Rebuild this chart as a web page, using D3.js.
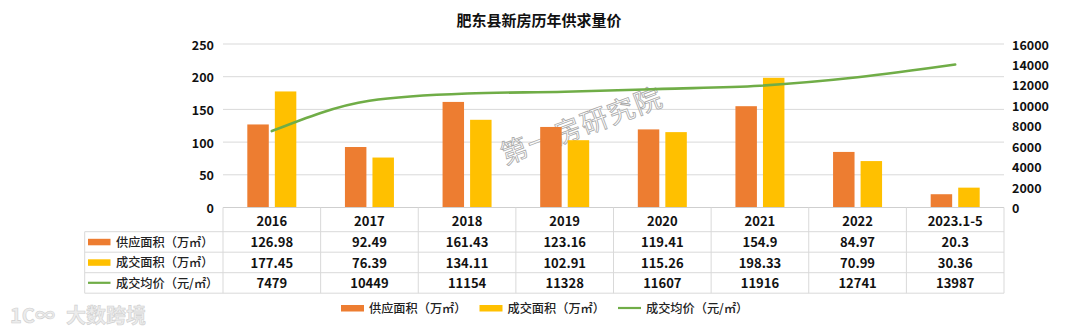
<!DOCTYPE html>
<html><head><meta charset="utf-8">
<script src="https://cdn.jsdelivr.net/npm/d3@7"></script>
<style>
body{margin:0;background:#fff;}
svg{display:block;font-family:"Noto Sans CJK SC","Noto Sans",sans-serif;}
</style></head>
<body><svg id="c" width="1080" height="327"></svg>
<script>
const title = "肥东县新房历年供求量价";
const categories = ["2016","2017","2018","2019","2020","2021","2022","2023.1-5"];
const supplyArea = [126.98,92.49,161.43,123.16,119.41,154.9,84.97,20.3];
const dealArea = [177.45,76.39,134.11,102.91,115.26,198.33,70.99,30.36];
const dealPrice = [7479,10449,11154,11328,11607,11916,12741,13987];
const leftTicks = [0,50,100,150,200,250];
const rightTicks = [0,2000,4000,6000,8000,10000,12000,14000,16000];
const seriesNames = ["供应面积（万㎡）","成交面积（万㎡）","成交均价（元/㎡）"];
const colors = ["#ED7D31","#FFC000","#70AD47"];

const svg = d3.select("#c");
const L = 223, R = 1004, T = 44, B = 207.5;
const labelLeft = 84.7;

const x = d3.scaleBand().domain(categories).range([L, R]);
const xs = d3.scaleBand().domain([0,1]).range([0,49]).paddingInner(0.22);
const yL = d3.scaleLinear().domain([0,250]).range([B, T]);
const yR = d3.scaleLinear().domain([0,16000]).range([B, T]);

// title
svg.append("text").attr("x",539).attr("y",19).attr("text-anchor","middle")
  .attr("dominant-baseline","central").attr("font-size",15).attr("font-weight","bold")
  .attr("fill","#111").text(title);

// gridlines
svg.append("g").selectAll("line").data(leftTicks.slice(1)).join("line")
  .attr("x1",L).attr("x2",R).attr("y1",d=>yL(d)).attr("y2",d=>yL(d))
  .attr("stroke","#D9D9D9").attr("stroke-width",1);

// left axis labels
svg.append("g").selectAll("text").data(leftTicks).join("text")
  .attr("x",214).attr("y",d=>yL(d)).attr("text-anchor","end").attr("dominant-baseline","central")
  .attr("font-size",12.5).attr("font-weight","bold").attr("fill","#111").text(d=>d);
// right axis labels
svg.append("g").selectAll("text").data(rightTicks).join("text")
  .attr("x",1012).attr("y",d=>yR(d)).attr("text-anchor","start").attr("dominant-baseline","central")
  .attr("font-size",12.5).attr("font-weight","bold").attr("fill","#111").text(d=>d);

// watermark
svg.append("text").attr("transform","translate(581,124) rotate(-20.6)")
  .attr("text-anchor","middle").attr("dominant-baseline","central")
  .attr("font-size",27).attr("letter-spacing",1.5)
  .attr("fill","#fff").attr("fill-opacity",0.5).attr("stroke","#a8a8a8").attr("stroke-width",0.8)
  .text("第一房研究院");

// bars
const gb = svg.append("g");
categories.forEach((c,i)=>{
  const cx = x(c) + x.bandwidth()/2 - 24.5;
  [supplyArea[i], dealArea[i]].forEach((v,j)=>{
    gb.append("rect").attr("x",cx+xs(j)).attr("width",xs.bandwidth())
      .attr("y",yL(v)).attr("height",B-yL(v)).attr("fill",colors[j]);
  });
});

// line
const line = d3.line().x((d,i)=>x(categories[i])+x.bandwidth()/2).y(d=>yR(d)).curve(d3.curveMonotoneX);
svg.append("path").datum(dealPrice).attr("d",line).attr("fill","none")
  .attr("stroke",colors[2]).attr("stroke-width",2.6).attr("stroke-linecap","round");

// table
const rowsY = [207.5,231.7,252.2,272.7,293.2];
const tg = svg.append("g").attr("stroke","#D9D9D9").attr("stroke-width",1);
tg.append("line").attr("x1",L).attr("x2",R).attr("y1",rowsY[0]).attr("y2",rowsY[0]).attr("stroke","#CFCFCF");
for(let k=1;k<rowsY.length;k++){
  tg.append("line").attr("x1",labelLeft).attr("x2",R).attr("y1",rowsY[k]).attr("y2",rowsY[k]);
}
categories.forEach(c=>{
  tg.append("line").attr("x1",x(c)).attr("x2",x(c)).attr("y1",rowsY[0]).attr("y2",rowsY[4]);
});
tg.append("line").attr("x1",R).attr("x2",R).attr("y1",rowsY[0]).attr("y2",rowsY[4]);
tg.append("line").attr("x1",labelLeft).attr("x2",labelLeft).attr("y1",rowsY[1]).attr("y2",rowsY[4]);

const txtY = [220.5,241.8,262.3,282.8];
const tt = svg.append("g").attr("font-size",13).attr("font-weight","bold").attr("fill","#111")
  .attr("text-anchor","middle").attr("dominant-baseline","central");
categories.forEach((c,i)=>{
  const cx = x(c)+x.bandwidth()/2;
  tt.append("text").attr("x",cx).attr("y",txtY[0]).text(c);
  tt.append("text").attr("x",cx).attr("y",txtY[1]).text(supplyArea[i]);
  tt.append("text").attr("x",cx).attr("y",txtY[2]).text(dealArea[i]);
  tt.append("text").attr("x",cx).attr("y",txtY[3]).text(dealPrice[i]);
});
// row labels
seriesNames.forEach((n,j)=>{
  const yy = txtY[j+1];
  if(j<2) svg.append("rect").attr("x",88).attr("y",yy-3).attr("width",22.5).attr("height",6.5).attr("fill",colors[j]);
  else svg.append("line").attr("x1",88).attr("x2",110.5).attr("y1",yy).attr("y2",yy).attr("stroke",colors[j]).attr("stroke-width",2.2);
  svg.append("text").attr("x",116).attr("y",yy).attr("dominant-baseline","central")
    .attr("font-size",12.2).attr("font-weight",500).attr("fill","#222").text(n);
});

// bottom legend
const lg = svg.append("g");
let lx = 341;
const ly = 308;
seriesNames.forEach((n,j)=>{
  if(j<2) lg.append("rect").attr("x",lx).attr("y",ly-3).attr("width",23).attr("height",6.5).attr("fill",colors[j]);
  else lg.append("line").attr("x1",lx).attr("x2",lx+23).attr("y1",ly).attr("y2",ly).attr("stroke",colors[j]).attr("stroke-width",2.2);
  const t = lg.append("text").attr("x",lx+28).attr("y",ly).attr("dominant-baseline","central")
    .attr("font-size",12.2).attr("font-weight",500).attr("fill","#222").text(n);
  lx += 28 + t.node().getComputedTextLength() + 13;
});

// bottom-left logo watermark
const lw = svg.append("g").attr("fill","#ececec").attr("stroke","#cfcfcf").attr("stroke-width",0.6);
lw.append("text").attr("x",10).attr("y",314).attr("dominant-baseline","central")
  .attr("font-size",20).attr("font-weight","bold").text("1C∞");
lw.append("text").attr("x",66).attr("y",314).attr("dominant-baseline","central")
  .attr("font-size",20).attr("font-weight","bold").text("大数跨境");
</script></body></html>
